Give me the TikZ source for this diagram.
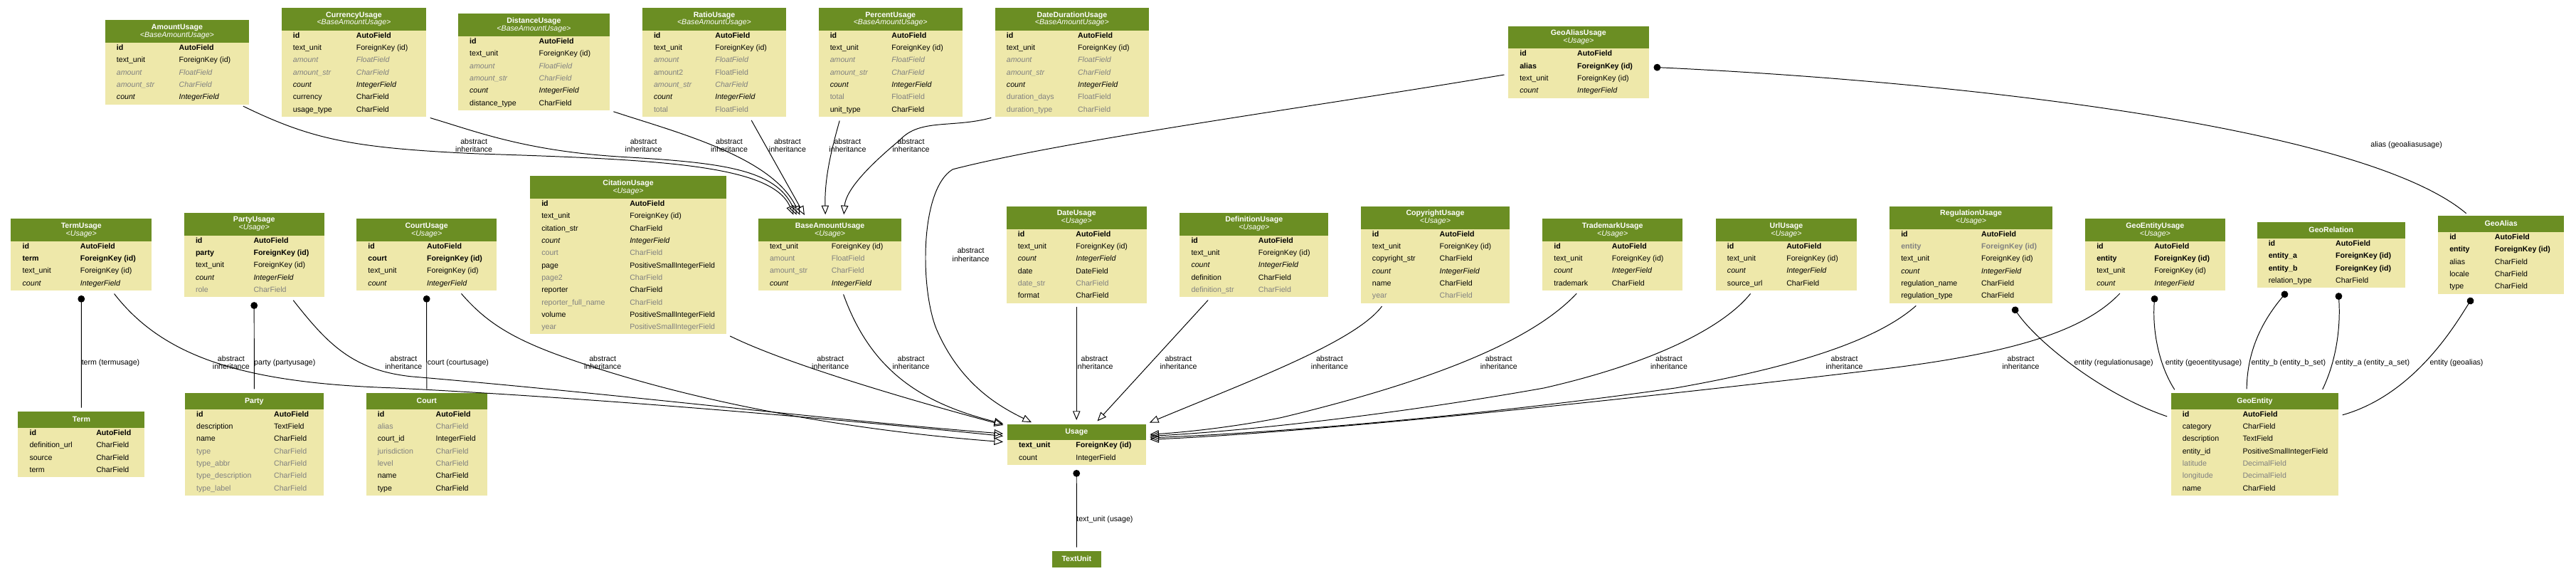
\documentclass[tikz,border=0pt]{standalone}
\usepackage{fontspec}
\setmainfont{Liberation Sans}
\usepackage{tikz}
\usetikzlibrary{arrows.meta,calc}
\definecolor{hdgreen}{HTML}{6B8E23}
\definecolor{bodyyellow}{HTML}{EEE8AA}
\definecolor{fgray}{HTML}{808080}
\setlength\fboxsep{0pt}
\newlength\mdlw
\newlength\mdln
\newcommand\fld[3]{\hbox to\mdlw{\vrule width0pt height9.2pt depth5.8pt\hskip14pt\makebox[\mdln][l]{#1#2}\makebox[0pt][l]{#1#3}\hss}}
\newcommand\fkey[2]{\fld{\bfseries}{#1}{#2}}
\newcommand\fnorm[2]{\fld{}{#1}{#2}}
\newcommand\fital[2]{\fld{\itshape}{#1}{#2}}
\newcommand\fgray[2]{\fld{\color{fgray}}{#1}{#2}}
\newcommand\fgrit[2]{\fld{\color{fgray}\itshape}{#1}{#2}}
\newcommand\fgkey[2]{\fld{\color{fgray}\bfseries}{#1}{#2}}
\newcommand\hdline[1]{\hbox to\mdlw{\vrule width0pt height7pt depth2.5pt\hfil#1\hfil}}
\newcommand\hdbox[2]{\if\relax\detokenize{#2}\relax
    \vbox to19.6pt{\vfil\hdline{\bfseries #1}\vfil}%
  \else
    \vbox to27.4pt{\vfil\hdline{\bfseries #1}\hdline{\itshape<#2>}\vfil}%
  \fi}
% name, x, y, width, type column, title, parent, fields
\newcommand\djmodel[8]{%
  \setlength\mdlw{2pt}\mdlw=#4\mdlw
  \setlength\mdln{2pt}\mdln=#5\mdln\addtolength\mdln{-14pt}%
  \node[model] (#1) at (#2,#3) {\vbox{\offinterlineskip
    \hbox{\colorbox{hdgreen}{\color{white}\hdbox{#6}{#7}}}#8}};}
\tikzstyle{model} = [anchor=north west, inner sep=0pt, outer sep=0pt, fill=bodyyellow, font=\fontsize{9.2}{15}\selectfont]
\tikzstyle{inh} = [-{Triangle[open,length=11pt,width=9pt]}, shorten >=5pt, shorten <=5pt]
\tikzstyle{fk} = [{Circle[length=8.5pt]}-, shorten <=6pt, shorten >=5pt]
\tikzstyle{lbl} = [inner sep=0pt, align=center, font=\fontsize{9.2}{10.1}\selectfont]
\tikzstyle{fklbl} = [lbl, anchor=west]
\begin{document}
\begin{tikzpicture}[x=2pt, y=-2pt, line width=0.85pt]
    \useasboundingbox (0,0) rectangle (1568.2,353);
    % amount models
    \djmodel{amountusage}{64}{12.3}{87.6}{45}{AmountUsage}{BaseAmountUsage}{
      \fkey{id}{AutoField}\fnorm{text\_unit}{ForeignKey (id)}\fgrit{amount}{FloatField}
      \fgrit{amount\_str}{CharField}\fital{count}{IntegerField}}
    \djmodel{currencyusage}{171.4}{4.8}{88.1}{45.5}{CurrencyUsage}{BaseAmountUsage}{
      \fkey{id}{AutoField}\fnorm{text\_unit}{ForeignKey (id)}\fgrit{amount}{FloatField}
      \fgrit{amount\_str}{CharField}\fital{count}{IntegerField}\fnorm{currency}{CharField}
      \fnorm{usage\_type}{CharField}}
    \djmodel{distanceusage}{278.9}{8.4}{92.2}{49.2}{DistanceUsage}{BaseAmountUsage}{
      \fkey{id}{AutoField}\fnorm{text\_unit}{ForeignKey (id)}\fgrit{amount}{FloatField}
      \fgrit{amount\_str}{CharField}\fital{count}{IntegerField}\fnorm{distance\_type}{CharField}}
    \djmodel{ratiousage}{391}{4.8}{87.6}{44.4}{RatioUsage}{BaseAmountUsage}{
      \fkey{id}{AutoField}\fnorm{text\_unit}{ForeignKey (id)}\fgrit{amount}{FloatField}
      \fgray{amount2}{FloatField}\fgrit{amount\_str}{CharField}\fital{count}{IntegerField}
      \fgray{total}{FloatField}}
    \djmodel{percentusage}{498.3}{4.8}{87.6}{44.5}{PercentUsage}{BaseAmountUsage}{
      \fkey{id}{AutoField}\fnorm{text\_unit}{ForeignKey (id)}\fgrit{amount}{FloatField}
      \fgrit{amount\_str}{CharField}\fital{count}{IntegerField}\fgray{total}{FloatField}
      \fnorm{unit\_type}{CharField}}
    \djmodel{datedurationusage}{605.8}{4.8}{93.6}{50.4}{DateDurationUsage}{BaseAmountUsage}{
      \fkey{id}{AutoField}\fnorm{text\_unit}{ForeignKey (id)}\fgrit{amount}{FloatField}
      \fgrit{amount\_str}{CharField}\fital{count}{IntegerField}\fgray{duration\_days}{FloatField}
      \fgray{duration\_type}{CharField}}
    \djmodel{geoaliasusage}{918.2}{15.9}{85.5}{42}{GeoAliasUsage}{Usage}{
      \fkey{id}{AutoField}\fkey{alias}{ForeignKey (id)}\fnorm{text\_unit}{ForeignKey (id)}
      \fital{count}{IntegerField}}
    % usage models
    \djmodel{termusage}{6.7}{133}{85.6}{42.2}{TermUsage}{Usage}{
      \fkey{id}{AutoField}\fkey{term}{ForeignKey (id)}\fnorm{text\_unit}{ForeignKey (id)}
      \fital{count}{IntegerField}}
    \djmodel{partyusage}{112.1}{129.5}{85.2}{42.3}{PartyUsage}{Usage}{
      \fkey{id}{AutoField}\fkey{party}{ForeignKey (id)}\fnorm{text\_unit}{ForeignKey (id)}
      \fital{count}{IntegerField}\fgray{role}{CharField}}
    \djmodel{courtusage}{217.1}{133}{85.2}{42.8}{CourtUsage}{Usage}{
      \fkey{id}{AutoField}\fkey{court}{ForeignKey (id)}\fnorm{text\_unit}{ForeignKey (id)}
      \fital{count}{IntegerField}}
    \djmodel{citationusage}{322.7}{107.1}{119.5}{60.7}{CitationUsage}{Usage}{
      \fkey{id}{AutoField}\fnorm{text\_unit}{ForeignKey (id)}\fnorm{citation\_str}{CharField}
      \fital{count}{IntegerField}\fgray{court}{CharField}\fnorm{page}{PositiveSmallIntegerField}
      \fgray{page2}{CharField}\fnorm{reporter}{CharField}\fgray{reporter\_full\_name}{CharField}
      \fnorm{volume}{PositiveSmallIntegerField}\fgray{year}{PositiveSmallIntegerField}}
    \djmodel{baseamountusage}{461.6}{133}{87.3}{44.6}{BaseAmountUsage}{Usage}{
      \fnorm{text\_unit}{ForeignKey (id)}\fgray{amount}{FloatField}\fgray{amount\_str}{CharField}
      \fital{count}{IntegerField}}
    \djmodel{dateusage}{612.7}{125.6}{85.3}{42.3}{DateUsage}{Usage}{
      \fkey{id}{AutoField}\fnorm{text\_unit}{ForeignKey (id)}\fital{count}{IntegerField}
      \fnorm{date}{DateField}\fgray{date\_str}{CharField}\fnorm{format}{CharField}}
    \djmodel{definitionusage}{718.2}{129.5}{90.5}{47.9}{DefinitionUsage}{Usage}{
      \fkey{id}{AutoField}\fnorm{text\_unit}{ForeignKey (id)}\fital{count}{IntegerField}
      \fnorm{definition}{CharField}\fgray{definition\_str}{CharField}}
    \djmodel{copyrightusage}{828.4}{125.6}{90.7}{48}{CopyrightUsage}{Usage}{
      \fkey{id}{AutoField}\fnorm{text\_unit}{ForeignKey (id)}\fnorm{copyright\_str}{CharField}
      \fital{count}{IntegerField}\fnorm{name}{CharField}\fgray{year}{CharField}}
    \djmodel{trademarkusage}{939}{133}{85.3}{42.3}{TrademarkUsage}{Usage}{
      \fkey{id}{AutoField}\fnorm{text\_unit}{ForeignKey (id)}\fital{count}{IntegerField}
      \fnorm{trademark}{CharField}}
    \djmodel{urlusage}{1044.5}{133}{85.9}{43.1}{UrlUsage}{Usage}{
      \fkey{id}{AutoField}\fnorm{text\_unit}{ForeignKey (id)}\fital{count}{IntegerField}
      \fnorm{source\_url}{CharField}}
    \djmodel{regulationusage}{1150.3}{125.6}{99.2}{55.9}{RegulationUsage}{Usage}{
      \fkey{id}{AutoField}\fgkey{entity}{ForeignKey (id)}\fnorm{text\_unit}{ForeignKey (id)}
      \fital{count}{IntegerField}\fnorm{regulation\_name}{CharField}\fnorm{regulation\_type}{CharField}}
    \djmodel{geoentityusage}{1269.4}{133}{85.1}{42.1}{GeoEntityUsage}{Usage}{
      \fkey{id}{AutoField}\fkey{entity}{ForeignKey (id)}\fnorm{text\_unit}{ForeignKey (id)}
      \fital{count}{IntegerField}}
    \djmodel{georelation}{1374}{135.3}{90.2}{47.9}{GeoRelation}{}{
      \fkey{id}{AutoField}\fkey{entity\_a}{ForeignKey (id)}\fkey{entity\_b}{ForeignKey (id)}
      \fnorm{relation\_type}{CharField}}
    \djmodel{geoalias}{1484.2}{131.4}{76.7}{34.6}{GeoAlias}{}{
      \fkey{id}{AutoField}\fkey{entity}{ForeignKey (id)}\fnorm{alias}{CharField}
      \fnorm{locale}{CharField}\fnorm{type}{CharField}}
    % targets
    \djmodel{term}{11}{250.5}{77.1}{47.6}{Term}{}{
      \fkey{id}{AutoField}\fnorm{definition\_url}{CharField}\fnorm{source}{CharField}
      \fnorm{term}{CharField}}
    \djmodel{party}{112.6}{239.1}{84.3}{54.2}{Party}{}{
      \fkey{id}{AutoField}\fnorm{description}{TextField}\fnorm{name}{CharField}
      \fgray{type}{CharField}\fgray{type\_abbr}{CharField}\fgray{type\_description}{CharField}
      \fgray{type\_label}{CharField}}
    \djmodel{court}{222.9}{239.1}{73.7}{42.4}{Court}{}{
      \fkey{id}{AutoField}\fgray{alias}{CharField}\fnorm{court\_id}{IntegerField}
      \fgray{jurisdiction}{CharField}\fgray{level}{CharField}\fnorm{name}{CharField}
      \fnorm{type}{CharField}}
    \djmodel{usage}{613.2}{258}{84.3}{41.8}{Usage}{}{
      \fkey{text\_unit}{ForeignKey (id)}\fnorm{count}{IntegerField}}
    \djmodel{textunit}{640.4}{335.4}{30}{7}{TextUnit}{}{}
    \djmodel{geoentity}{1321.6}{239.1}{102}{43.7}{GeoEntity}{}{
      \fkey{id}{AutoField}\fnorm{category}{CharField}\fnorm{description}{TextField}
      \fnorm{entity\_id}{PositiveSmallIntegerField}\fgray{latitude}{DecimalField}
      \fgray{longitude}{DecimalField}\fnorm{name}{CharField}}

    \node [lbl] (ia1) at (288.5,88.4) {abstract\\inheritance};
    \node [lbl] (ia2) at (391.8,88.4) {abstract\\inheritance};
    \node [lbl] (ia3) at (443.9,88.4) {abstract\\inheritance};
    \node [lbl] (ia4) at (479.4,88.4) {abstract\\inheritance};
    \node [lbl] (ia5) at (516,88.4) {abstract\\inheritance};
    \node [lbl] (ia6) at (554.6,88.4) {abstract\\inheritance};
    \node [lbl] (ib0) at (591,154.8) {abstract\\inheritance};
    \node [lbl] (ib1) at (140.7,220.5) {abstract\\inheritance};
    \node [lbl] (ib2) at (245.7,220.5) {abstract\\inheritance};
    \node [lbl] (ib3) at (366.9,220.5) {abstract\\inheritance};
    \node [lbl] (ib4) at (505.5,220.5) {abstract\\inheritance};
    \node [lbl] (ib5) at (554.6,220.5) {abstract\\inheritance};
    \node [lbl] (ib6) at (666.3,220.5) {abstract\\inheritance};
    \node [lbl] (ib7) at (717.4,220.5) {abstract\\inheritance};
    \node [lbl] (ib8) at (809.4,220.5) {abstract\\inheritance};
    \node [lbl] (ib9) at (912.4,220.5) {abstract\\inheritance};
    \node [lbl] (ib10) at (1016,220.5) {abstract\\inheritance};
    \node [lbl] (ib11) at (1122.8,220.5) {abstract\\inheritance};
    \node [lbl] (ib12) at (1230.2,220.5) {abstract\\inheritance};
    \node [fklbl] (fk1) at (49.5,220.6) {term (termusage)};
    \node [fklbl] (fk2) at (154.5,220.6) {party (partyusage)};
    \node [fklbl] (fk3) at (260,220.6) {court (courtusage)};
    \node [fklbl] (fk4) at (655.2,316.2) {text\_unit (usage)};
    \node [fklbl] (fk5) at (1262.5,220.6) {entity (regulationusage)};
    \node [fklbl] (fk6) at (1318,220.6) {entity (geoentityusage)};
    \node [fklbl] (fk7) at (1370.3,220.6) {entity\_b (entity\_b\_set)};
    \node [fklbl] (fk8) at (1421.4,220.6) {entity\_a (entity\_a\_set)};
    \node [fklbl] (fk9) at (1479,220.6) {entity (geoalias)};
    \node [fklbl] (fk10) at (1443,88.4) {alias (geoaliasusage)};

    \draw [inh] ($(amountusage.south)+(38,0)$) .. controls (190,85) and (215,90) .. (290,93.5) .. controls (400,97) and (470,100) .. ($(baseamountusage.north)+(-21.25,0)$);
    \draw [inh] (currencyusage.south east) .. controls (290,80) and (320,92) .. (380,95.5) .. controls (440,99) and (472,103) .. ($(baseamountusage.north)+(-19.25,0)$);
    \draw [inh] (distanceusage.south east) .. controls (410,80) and (470,95) .. ($(baseamountusage.north)+(-17.25,0)$);
    \draw [inh] ($(ratiousage.south)+(21.4,0)$) -- ($(baseamountusage.north)+(-14.25,0)$);
    \draw [inh] ($(percentusage.south)+(-30.3,0)$) .. controls (505,95) and (502,110) .. ($(baseamountusage.north)+(-2.75,0)$);
    \draw [inh] (datedurationusage.south west) .. controls (580,78) and (560,72) .. (548,85) .. controls (530,100) and (515,115) .. ($(baseamountusage.north)+(8.25,0)$);

    \draw [inh] ($(termusage.south)+(18.5,0)$) .. controls (100,218) and (150,233) .. (240,236) .. controls (360,242) and (500,254) .. ($(usage.west)+(0,-4.9)$);
    \draw [inh] ($(partyusage.south)+(22.3,0)$) .. controls (200,210) and (215,225) .. (250,229) .. controls (380,240) and (500,255) .. ($(usage.west)+(0,-6.4)$);
    \draw [inh] ($(courtusage.south)+(19.5,0)$) .. controls (295,195) and (310,205) .. (340,216) .. controls (420,245) and (520,262) .. ($(usage.west)+(0,-1.4)$);
    \draw [inh] (citationusage.south east) .. controls (480,222) and (560,245) .. ($(usage.west)+(0,-11.2)$);
    \draw [inh] ($(baseamountusage.south)+(7.35,0)$) .. controls (530,225) and (560,245) .. ($(usage.west)+(0,-12)$);
    \draw [inh] ($(geoaliasusage.west)+(0,7.3)$) .. controls (800,65) and (650,85) .. (580,103) .. controls (560,115) and (560,175) .. (570,200) .. controls (585,235) and (610,248) .. ($(usage.north west)+(17,0)$);
    \draw [inh] (dateusage.south) -- (usage.north);
    \draw [inh] ($(definitionusage.south)+(-26.3,0)$) -- ($(usage.north)+(11,0)$);
    \draw [inh] ($(copyrightusage.south)+(-31,0)$) .. controls (825,208) and (760,232) .. (usage.north east);
    \draw [inh] ($(trademarkusage.south)+(-20.15,0)$) .. controls (935,205) and (880,230) .. (780,254) .. controls (750,260) and (720,263) .. ($(usage.east)+(0,-6)$);
    \draw [inh] ($(urlusage.south)+(-20.25,0)$) .. controls (1050,198) and (1010,220) .. (940,236) .. controls (850,252) and (760,262) .. ($(usage.east)+(0,-5)$);
    \draw [inh] ($(regulationusage.south)+(-31.6,0)$) .. controls (1145,205) and (1100,222) .. (1020,236) .. controls (900,253) and (780,263) .. ($(usage.east)+(0,-4)$);
    \draw [inh] ($(geoentityusage.south)+(-19.75,0)$) .. controls (1270,200) and (1230,214) .. (1150,224) .. controls (950,248) and (780,264) .. ($(usage.east)+(0,-3)$);

    \draw [fk] (termusage.south) -- (term.north);
    \draw [fk] (partyusage.south) -- (party.north);
    \draw [fk] (courtusage.south) -- (court.north);
    \draw [fk] (usage.south) -- (textunit.north);
    \draw [fk] ($(geoaliasusage.east)+(0,3)$) .. controls (1200,50) and (1440,78) .. ($(geoalias.north)+(-19.3,0)$);
    \draw [fk] ($(regulationusage.south)+(24,0)$) .. controls (1240,208) and (1280,240) .. ($(geoentity.north west)+(0,15)$);
    \draw [fk] (geoentityusage.south) .. controls (1310,205) and (1316,225) .. ($(geoentity.north west)+(3.6,0)$);
    \draw [fk] ($(georelation.south)+(-25,0)$) .. controls (1380,192) and (1368,210) .. ($(geoentity.north)+(-4.9,0)$);
    \draw [fk] ($(georelation.south)+(4.3,0)$) .. controls (1425,200) and (1422,220) .. ($(geoentity.north east)+(-10.8,0)$);
    \draw [fk] ($(geoalias.south)+(-15.9,0)$) .. controls (1495,197) and (1470,240) .. ($(geoentity.north east)+(0,14)$);
\end{tikzpicture}
\end{document}
